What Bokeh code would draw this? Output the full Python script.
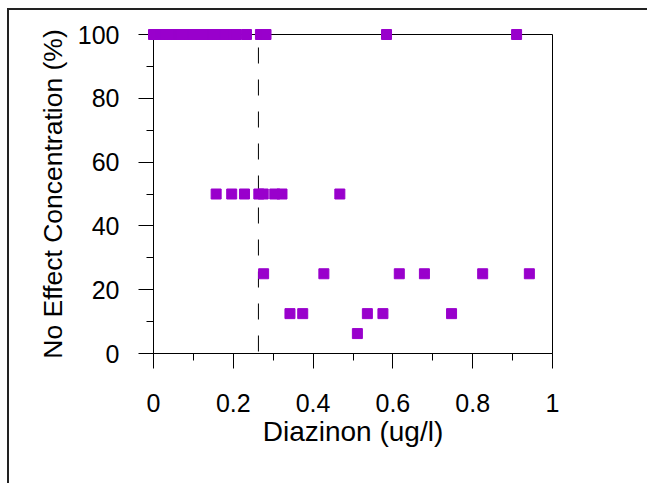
from bokeh.plotting import figure
from bokeh.models import Range1d, Span, FixedTicker
from bokeh.embed import file_html
from bokeh.resources import INLINE

# NOEC data: diazinon concentration (ug/l) vs no effect concentration (%)
diazinon_100 = [0.0, 0.005, 0.01, 0.02, 0.025, 0.03, 0.04, 0.05, 0.06, 0.065, 0.07,
                0.08, 0.09, 0.1, 0.11, 0.12, 0.13, 0.14, 0.15, 0.16, 0.17, 0.18,
                0.19, 0.2, 0.207, 0.233, 0.268, 0.282, 0.584, 0.91]
noec_100 = [100] * len(diazinon_100)

diazinon_50 = [0.157, 0.196, 0.228, 0.264, 0.275, 0.304, 0.322, 0.467]
noec_50 = [50] * len(diazinon_50)

diazinon_25 = [0.276, 0.427, 0.616, 0.679, 0.825, 0.942]
noec_25 = [25] * len(diazinon_25)

diazinon_12 = [0.342, 0.374, 0.536, 0.575, 0.747]
noec_12 = [12.5] * len(diazinon_12)

diazinon_6 = [0.511]
noec_6 = [6.25]

threshold = 0.263

x_ticks = [0, 0.2, 0.4, 0.6, 0.8, 1]
x_tick_labels = {0: "0", 0.2: "0.2", 0.4: "0.4", 0.6: "0.6", 0.8: "0.8", 1: "1"}
x_minor = [0.1, 0.3, 0.5, 0.7, 0.9]
y_ticks = [0, 20, 40, 60, 80, 100]
y_minor = [10, 30, 50, 70, 90]

xs = diazinon_100 + diazinon_50 + diazinon_25 + diazinon_12 + diazinon_6
ys = noec_100 + noec_50 + noec_25 + noec_12 + noec_6

FONT = "Liberation Sans"

p = figure(frame_width=399, frame_height=319,
           min_border_left=144, min_border_right=95,
           min_border_top=24, min_border_bottom=130,
           x_range=Range1d(0, 1), y_range=Range1d(0, 100),
           output_backend="svg", toolbar_location=None)

p.styles = {"border-top": "2px solid #222", "border-left": "2px solid #222",
            "margin-left": "7px", "margin-top": "8px"}

p.background_fill_color = "white"
p.border_fill_color = "white"
p.outline_line_color = "black"
p.outline_line_width = 1
p.outline_line_alpha = 1
p.xgrid.visible = False
p.ygrid.visible = False

r = p.scatter(xs, ys, marker="square", size=10,
              fill_color="#9900CC", line_color="#9900CC")
r.level = "overlay"

p.add_layout(Span(location=threshold, dimension="height", line_color="black",
                  line_width=1, line_dash="16 16", line_dash_offset=19))

for ax in (p.xaxis[0], p.yaxis[0]):
    ax.axis_line_color = "black"
    ax.major_tick_line_color = "black"
    ax.minor_tick_line_color = "black"
    ax.major_tick_out = 15
    ax.major_tick_in = 0
    ax.minor_tick_out = 7
    ax.minor_tick_in = 0
    ax.major_label_text_font = FONT
    ax.major_label_text_font_size = "25px"
    ax.major_label_text_color = "black"
    ax.axis_label_text_font = FONT
    ax.axis_label_text_font_style = "normal"
    ax.axis_label_text_color = "black"

p.xaxis[0].axis_label_text_font_size = "28px"
p.yaxis[0].axis_label_text_font_size = "26.5px"
p.xaxis[0].ticker = FixedTicker(ticks=x_ticks, minor_ticks=x_minor)
p.xaxis[0].major_label_overrides = x_tick_labels
p.yaxis[0].ticker = FixedTicker(ticks=y_ticks, minor_ticks=y_minor)
p.xaxis[0].axis_label = "Diazinon (ug/l)"
p.yaxis[0].axis_label = "No Effect Concentration (%)"
p.xaxis[0].major_label_standoff = 25
p.yaxis[0].major_label_standoff = 19
p.xaxis[0].axis_label_standoff = 1
p.yaxis[0].axis_label_standoff = 7

open("out.html", "w").write(file_html(p, INLINE))
